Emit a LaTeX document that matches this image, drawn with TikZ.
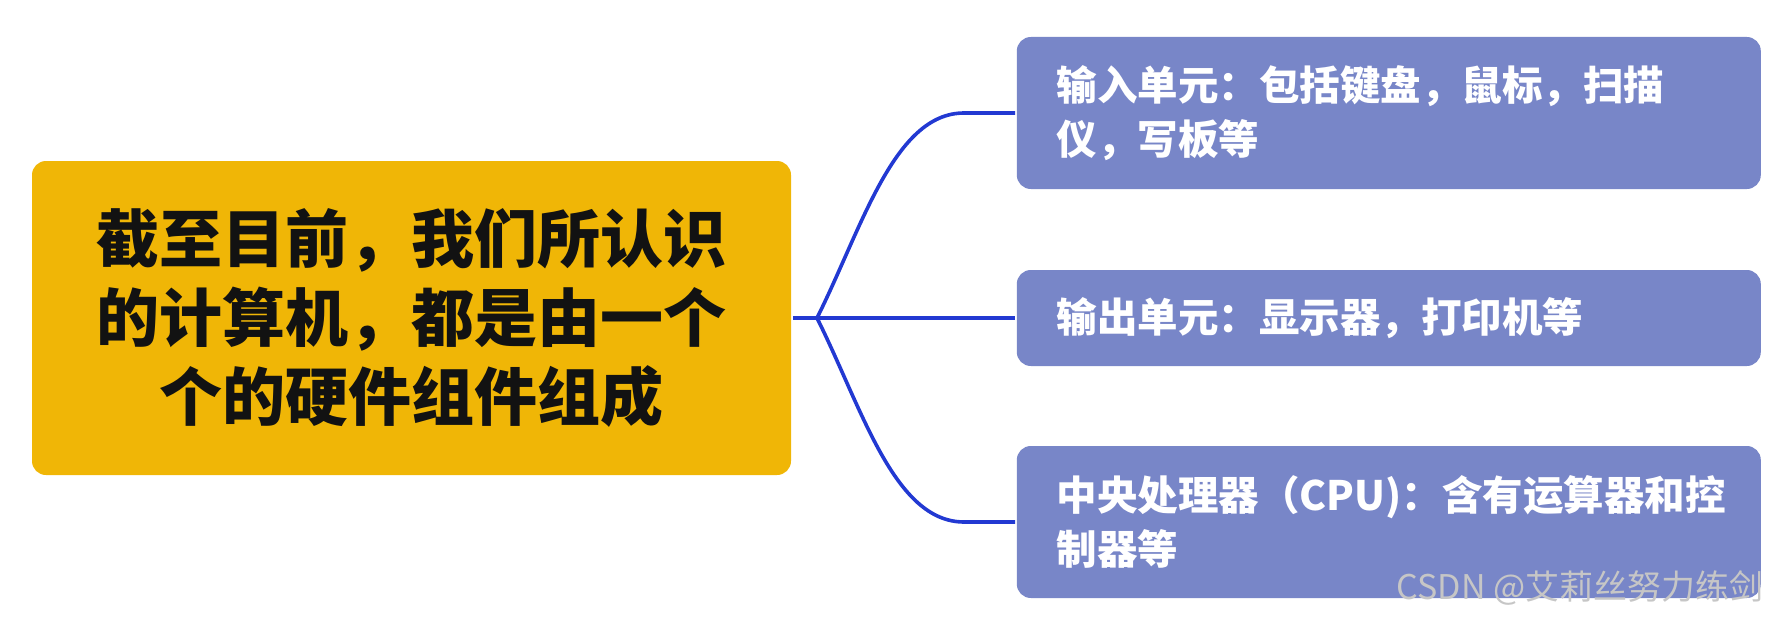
\documentclass[tikz,border=0pt]{standalone}
\usepackage{fontspec}
\setmainfont{Noto Sans CJK SC}
\usepackage{xcolor}
\definecolor{gold}{HTML}{F0B606}
\definecolor{lilac}{HTML}{7886C8}
\definecolor{wire}{HTML}{2239D2}
\definecolor{ink}{HTML}{121212}
\definecolor{faint}{HTML}{C6C6C6}
\usepackage{tikz}
\usetikzlibrary{positioning}
\tikzset{
  every picture/.style={line width=1.8pt},
  topic/.style={fill=gold, rounded corners=7pt, align=center, text=ink,
    font=\fontsize{31.5}{39.5}\selectfont\bfseries,
    minimum width=379.5pt, minimum height=157pt},
  leaf/.style={fill=lilac, rounded corners=7pt, align=left, text=white,
    font=\fontsize{20.25}{27}\selectfont\bfseries,
    inner xsep=20pt, text width=332pt, minimum height=#1},
  leaf/.default=76pt,
  link/.style={draw=wire, line width=1.8pt},
  stamp/.style={text=faint, font=\fontsize{17}{20}\selectfont},
}

\begin{document}
\begin{tikzpicture}[x=0.5pt, y=0.5pt]
  \useasboundingbox (0,0) rectangle (1779,623);
  % root and the three parts
  \node[topic] (root) at (411.5,305) {截至目前，我们所认识\\的计算机，都是由一个\\个的硬件组件组成};
  \node[leaf, anchor=west] (input) at (1015,510) {输入单元：包括键盘，鼠标，扫描\\仪，写板等};
  \node[leaf=48pt, anchor=west] (output) at (1015,305) {输出单元：显示器，打印机等};
  \node[leaf, anchor=west] (cpu) at (1015,101) {中央处理器（CPU)：含有运算器和控\\制器等};
  \coordinate (jct) at (817,305);
  \draw[link] (root.east) -- (output.west);
  \draw[link] (jct) .. controls (862,395) and (894,510) .. (964,510) -- (input.west);
  \draw[link] (jct) .. controls (862,215) and (894,101) .. (964,101) -- (cpu.west);
  \node[stamp, anchor=east] (mark) at (1772,35) {CSDN @艾莉丝努力练剑};
\end{tikzpicture}
\end{document}
